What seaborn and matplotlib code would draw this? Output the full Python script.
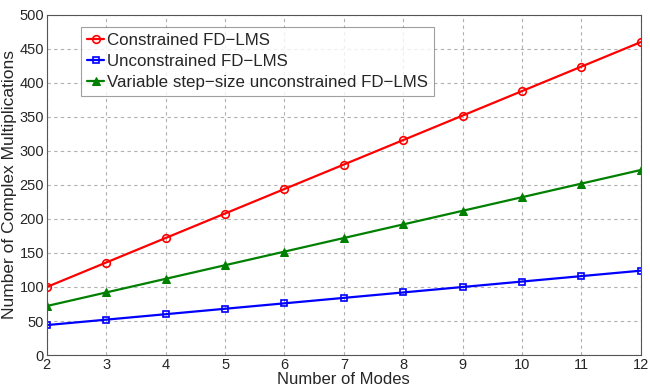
import numpy as np
import pandas as pd
import matplotlib
matplotlib.use("Agg")
import matplotlib.pyplot as plt
import seaborn as sns

modes = [2, 3, 4, 5, 6, 7, 8, 9, 10, 11, 12]
constrained = [100, 136, 172, 208, 244, 280, 316, 352, 388, 424, 460]
unconstrained = [44, 52, 60, 68, 76, 84, 92, 100, 108, 116, 124]
variable_step = [72, 92, 112, 132, 152, 172, 192, 212, 232, 252, 272]

labels = ["Constrained FD\u2212LMS", "Unconstrained FD\u2212LMS",
          "Variable step\u2212size unconstrained FD\u2212LMS"]

sns.set_style("white")
plt.rcParams['font.family'] = ['Liberation Sans', 'DejaVu Sans']

fig, ax = plt.subplots(figsize=(6.5, 3.91), dpi=100)
fig.subplots_adjust(left=0.072, right=0.986, top=0.962, bottom=0.092)

sns.lineplot(x=modes, y=constrained, ax=ax, color="#ff0000", marker="o",
             markersize=5.5, markerfacecolor="none", markeredgecolor="#ff0000",
             markeredgewidth=1.2, linewidth=1.6, label=labels[0])
sns.lineplot(x=modes, y=unconstrained, ax=ax, color="#0000ff", marker="s",
             markersize=5, markerfacecolor="none", markeredgecolor="#0000ff",
             markeredgewidth=1.2, linewidth=1.6, label=labels[1])
sns.lineplot(x=modes, y=variable_step, ax=ax, color="#008000", marker="^",
             markersize=6, markerfacecolor="#008000", markeredgecolor="#008000",
             linewidth=1.6, label=labels[2])

ax.set_xlim(2, 12)
ax.set_ylim(0, 500)
ax.set_xticks(modes)
ax.set_yticks(np.arange(0, 501, 50))
ax.grid(True, linestyle=(0, (3, 3)), color="#b0b0b0", linewidth=0.8)
for s in ax.spines.values():
    s.set_color("#555555")
    s.set_linewidth(0.8)
ax.tick_params(axis="both", labelsize=10.5, direction="in", length=3, pad=2)
ax.set_xlabel("Number of Modes", fontsize=12, labelpad=0)
ax.set_ylabel("Number of Complex Multiplications", fontsize=12.5, labelpad=2)

leg = ax.legend(loc="upper left", bbox_to_anchor=(0.058, 0.963), fontsize=12.2,
                frameon=True, fancybox=False, edgecolor="#888888",
                handlelength=1.0, handletextpad=0.15, borderpad=0.35,
                labelspacing=0.35, borderaxespad=0)
leg.get_frame().set_linewidth(0.8)

fig.savefig("out.png", dpi=100)
